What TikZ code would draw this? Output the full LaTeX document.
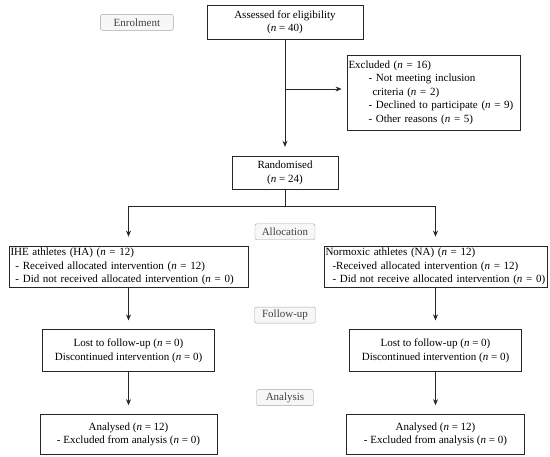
\documentclass[tikz,border=0pt]{standalone}
\usepackage{fontspec}
\setmainfont{Liberation Serif}
\usetikzlibrary{positioning, arrows.meta}
\newcommand{\nval}[1]{(\textit{n} = #1)}

\begin{document}
\begin{tikzpicture}[x=1pt, y=-1pt, >={Stealth[length=6pt,width=5pt]}, node distance=42pt,
    font=\fontsize{11}{13.5}\selectfont,
    box/.style={draw=black!85, line width=0.8pt, inner sep=2pt, align=center},
    listbox/.style={box, inner xsep=1.5pt, align=left},
    stage/.style={draw=gray!70, fill=gray!6, rounded corners=2pt, text=black!75, minimum height=16pt, inner sep=1pt},
    flow/.style={->, line width=0.8pt, draw=black!85, shorten >=9pt}]
  \useasboundingbox (0,0) rectangle (550,457);
  \node[box, minimum width=156pt, minimum height=34pt, anchor=north] (assess) at (285,5) {Assessed for eligibility\\ \nval{40}};
  \node[stage, minimum width=73pt, left=33pt of assess] (enrol) {Enrolment};
  \node[listbox, text width=170pt, minimum height=75pt] (excl) at (433.5,92.5)
    {Excluded \nval{16}\\ \hspace*{20pt}- Not meeting inclusion\\ \hspace*{24pt}criteria \nval{2}\\
     \hspace*{20pt}- Declined to participate \nval{9}\\ \hspace*{20pt}- Other reasons \nval{5}};
  \node[box, minimum width=106pt, minimum height=33pt, below=116pt of assess] (rand) {Randomised\\ \nval{24}};
  \node[stage, minimum width=60pt, below=34pt of rand] (alloc) {Allocation};
  \node[listbox, text width=236pt, minimum height=39pt] (ihe) at (128.5,266.5)
    {IHE athletes (HA) \nval{12}\\ \hspace*{5pt}- Received allocated intervention \nval{12}\\
     \hspace*{5pt}- Did not received allocated intervention \nval{0}};
  \node[listbox, text width=220pt, minimum height=39pt] (norm) at (435.5,266.5)
    {Normoxic athletes (NA) \nval{12}\\ \hspace*{7pt}-Received allocated intervention \nval{12}\\
     \hspace*{7pt}- Did not receive allocated intervention \nval{0}};
  \node[stage, minimum width=61pt, below=67pt of alloc] (follow) {Follow-up};
  \node[box, minimum width=172pt, minimum height=42pt, below=of ihe] (lostL) {Lost to follow-up \nval{0}\\ Discontinued intervention \nval{0}};
  \node[box, minimum width=172pt, minimum height=42pt, below=of norm] (lostR) {Lost to follow-up \nval{0}\\ Discontinued intervention \nval{0}};
  \node[stage, minimum width=57pt, below=66pt of follow] (analysis) {Analysis};
  \node[box, minimum width=177pt, minimum height=40pt, below=of lostL] (anL) {Analysed \nval{12}\\ - Excluded from analysis \nval{0}};
  \node[box, minimum width=178pt, minimum height=40pt, below=of lostR] (anR) {Analysed \nval{12}\\ - Excluded from analysis \nval{0}};
  \coordinate (split) at (285,89);
  \draw[flow] (assess.south) -- (rand.north);
  \draw[flow, shorten >=5pt] (split) -- (split -| excl.west);
  \draw[flow] (rand.south) -- ++(0,17) -| (ihe.north);
  \draw[flow] (rand.south) ++(0,17) -| (norm.north);
  \draw[flow] (ihe.south) -- (lostL.north);
  \draw[flow] (norm.south) -- (lostR.north);
  \draw[flow] (lostL.south) -- (anL.north);
  \draw[flow] (lostR.south) -- (anR.north);
\end{tikzpicture}
\end{document}
